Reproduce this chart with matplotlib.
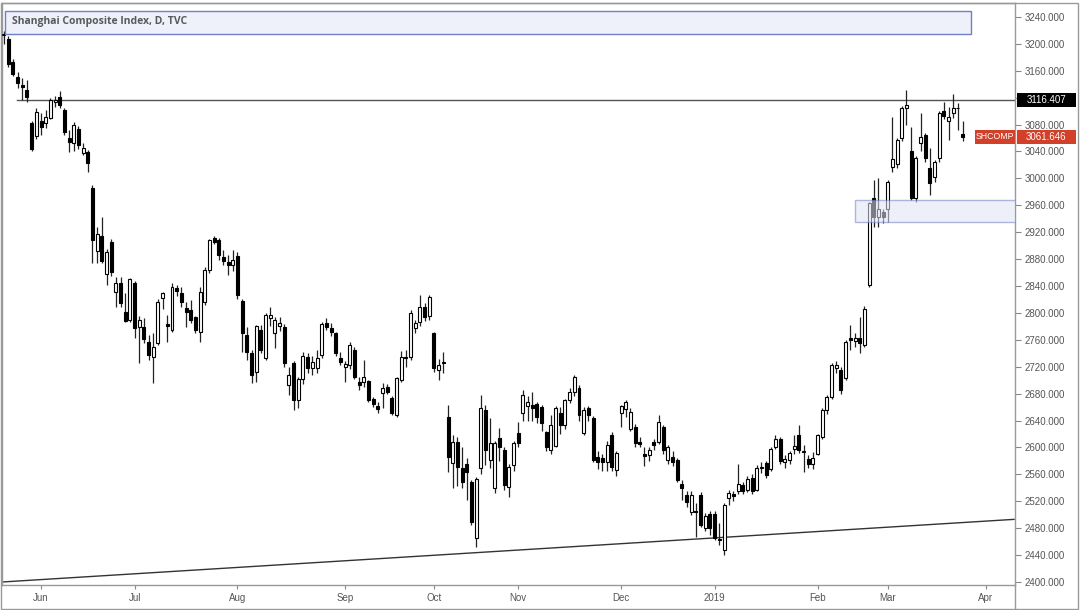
import matplotlib
matplotlib.use('Agg')
import matplotlib.pyplot as plt
from matplotlib.patches import Rectangle
from matplotlib.lines import Line2D
import numpy as np

# daily bars, 22 May 2018 .. 25 Mar 2019 (one entry per trading day)
opens = [3213, 3207, 3173, 3151, 3139, 3131, 3082, 3063, 3085, 3083,
         3090, 3113, 3121, 3102, 3060, 3053, 3073, 3038, 3039, 2986,
         2892, 2914, 2858, 2905, 2831, 2844, 2801, 2790, 2844, 2779,
         2779, 2757, 2734, 2755, 2822, 2783, 2775, 2837, 2830, 2808,
         2804, 2794, 2772, 2816, 2864, 2911, 2908, 2883, 2875, 2871,
         2885, 2818, 2767, 2740, 2712, 2775, 2733, 2793, 2770, 2780,
         2779, 2693, 2725, 2670, 2702, 2734, 2718, 2718, 2737, 2785,
         2777, 2770, 2733, 2719, 2722, 2745, 2697, 2697, 2698, 2672,
         2662, 2681, 2690, 2673, 2648, 2700, 2735, 2734, 2778, 2787,
         2809, 2795, 2770, 2715, 2725, 2645, 2577, 2608, 2569, 2576,
         2548, 2465, 2569, 2656, 2581, 2539, 2614, 2596, 2541, 2574,
         2621, 2651, 2662, 2663, 2664, 2660, 2623, 2596, 2602, 2651,
         2633, 2670, 2683, 2688, 2622, 2658, 2643, 2585, 2584, 2578,
         2618, 2566, 2651, 2657, 2628, 2630, 2608, 2590, 2588, 2608,
         2608, 2630, 2581, 2586, 2581, 2545, 2529, 2504, 2506, 2529,
         2480, 2501, 2501, 2462, 2447, 2525, 2530, 2535, 2544, 2537,
         2555, 2537, 2571, 2577, 2568, 2601, 2612, 2578, 2582, 2598,
         2618, 2593, 2583, 2576, 2590, 2615, 2656, 2675, 2718, 2715,
         2703, 2763, 2758, 2762, 2752, 2841, 2971, 2943, 2950, 2955,
         3017, 3022, 3060, 3105, 3040, 2971, 3052, 3064, 3015, 3002,
         3030, 3100, 3085, 3097, 3104, 3066]
highs = [3219, 3212, 3178, 3158, 3149, 3146, 3085, 3105, 3097, 3102,
         3120, 3122, 3130, 3104, 3072, 3084, 3078, 3053, 3042, 2990,
         2928, 2943, 2895, 2910, 2853, 2853, 2830, 2852, 2848, 2795,
         2792, 2767, 2770, 2820, 2831, 2797, 2845, 2841, 2839, 2816,
         2819, 2796, 2839, 2868, 2910, 2914, 2911, 2894, 2886, 2894,
         2890, 2820, 2779, 2745, 2782, 2782, 2800, 2809, 2794, 2794,
         2783, 2720, 2728, 2705, 2742, 2740, 2736, 2745, 2786, 2792,
         2785, 2772, 2742, 2728, 2757, 2750, 2705, 2730, 2700, 2675,
         2667, 2696, 2694, 2676, 2705, 2744, 2745, 2804, 2790, 2826,
         2815, 2826, 2771, 2731, 2742, 2663, 2618, 2615, 2600, 2584,
         2552, 2556, 2678, 2663, 2644, 2609, 2629, 2601, 2575, 2610,
         2638, 2685, 2676, 2683, 2668, 2663, 2625, 2648, 2662, 2660,
         2672, 2688, 2708, 2693, 2660, 2662, 2646, 2594, 2590, 2610,
         2623, 2594, 2663, 2670, 2659, 2635, 2615, 2600, 2600, 2612,
         2648, 2633, 2603, 2594, 2584, 2551, 2535, 2535, 2517, 2533,
         2502, 2505, 2505, 2488, 2517, 2536, 2535, 2576, 2548, 2558,
         2560, 2574, 2578, 2580, 2600, 2618, 2615, 2588, 2595, 2618,
         2633, 2603, 2588, 2593, 2620, 2658, 2678, 2725, 2728, 2720,
         2760, 2782, 2770, 2794, 2810, 2965, 2998, 3000, 2955, 2998,
         3091, 3060, 3108, 3131, 3076, 3033, 3097, 3068, 3045, 3028,
         3100, 3114, 3106, 3125, 3112, 3086]
lows = [3200, 3166, 3152, 3134, 3117, 3114, 3041, 3058, 3064, 3075,
        3088, 3106, 3105, 3064, 3039, 3040, 3044, 3035, 3010, 2874,
        2874, 2874, 2841, 2855, 2809, 2809, 2786, 2786, 2763, 2725,
        2755, 2730, 2696, 2752, 2806, 2757, 2772, 2825, 2809, 2779,
        2785, 2770, 2757, 2812, 2860, 2902, 2879, 2871, 2856, 2862,
        2820, 2742, 2730, 2696, 2697, 2740, 2730, 2780, 2748, 2773,
        2720, 2678, 2656, 2658, 2695, 2710, 2707, 2710, 2733, 2775,
        2765, 2736, 2722, 2697, 2716, 2702, 2685, 2690, 2668, 2660,
        2651, 2659, 2679, 2648, 2645, 2697, 2720, 2730, 2770, 2780,
        2788, 2790, 2712, 2700, 2711, 2563, 2540, 2542, 2539, 2522,
        2485, 2452, 2560, 2574, 2569, 2532, 2580, 2536, 2526, 2565,
        2600, 2640, 2640, 2640, 2637, 2625, 2595, 2590, 2600, 2620,
        2628, 2666, 2676, 2640, 2619, 2640, 2578, 2568, 2565, 2565,
        2565, 2558, 2631, 2645, 2625, 2600, 2600, 2573, 2580, 2596,
        2605, 2590, 2575, 2572, 2548, 2522, 2512, 2500, 2467, 2482,
        2476, 2470, 2462, 2455, 2440, 2515, 2520, 2530, 2530, 2533,
        2530, 2535, 2562, 2555, 2565, 2598, 2575, 2570, 2575, 2590,
        2592, 2563, 2570, 2568, 2588, 2612, 2650, 2672, 2710, 2680,
        2700, 2745, 2750, 2740, 2750, 2838, 2928, 2928, 2934, 2935,
        3010, 3015, 3055, 3080, 2968, 2965, 3040, 3025, 2975, 2995,
        3025, 3088, 3057, 3090, 3072, 3056]
closes = [3214, 3170, 3155, 3142, 3136, 3121, 3044, 3099, 3076, 3091,
          3116, 3117, 3109, 3069, 3054, 3080, 3050, 3045, 3023, 2908,
          2917, 2877, 2891, 2861, 2844, 2815, 2788, 2850, 2777, 2789,
          2761, 2737, 2749, 2816, 2830, 2780, 2838, 2833, 2816, 2801,
          2789, 2775, 2831, 2864, 2908, 2905, 2886, 2877, 2871, 2879,
          2826, 2770, 2742, 2707, 2780, 2745, 2797, 2797, 2789, 2785,
          2725, 2708, 2670, 2702, 2736, 2718, 2727, 2733, 2783, 2779,
          2771, 2740, 2727, 2724, 2752, 2705, 2693, 2704, 2670, 2665,
          2657, 2688, 2683, 2651, 2703, 2734, 2733, 2800, 2785, 2809,
          2794, 2824, 2718, 2722, 2727, 2586, 2608, 2571, 2548, 2563,
          2489, 2553, 2659, 2596, 2606, 2606, 2601, 2544, 2571, 2606,
          2606, 2678, 2668, 2659, 2645, 2636, 2601, 2633, 2658, 2633,
          2670, 2683, 2705, 2648, 2656, 2648, 2581, 2578, 2578, 2603,
          2571, 2591, 2661, 2668, 2652, 2606, 2605, 2587, 2596, 2603,
          2638, 2596, 2600, 2578, 2551, 2539, 2519, 2529, 2504, 2485,
          2498, 2480, 2465, 2464, 2514, 2532, 2527, 2545, 2535, 2553,
          2535, 2570, 2570, 2559, 2598, 2613, 2580, 2583, 2592, 2602,
          2596, 2594, 2575, 2584, 2618, 2656, 2675, 2723, 2722, 2685,
          2757, 2760, 2762, 2755, 2806, 2963, 2943, 2955, 2943, 2995,
          3029, 3057, 3105, 3109, 2971, 3030, 3062, 3030, 2993, 3024,
          3097, 3093, 3092, 3104, 3105, 3061.646]

# first trading day of each month (bar index)
month_labels = ['Jun', 'Jul', 'Aug', 'Sep', 'Oct', 'Nov', 'Dec', '2019', 'Feb', 'Mar', 'Apr']
month_starts = [8, 28, 50, 73, 92, 110, 132, 152, 174, 189, 210]

resist_level = 3116.407
last_price = 3061.646
zone_low, zone_high = 2935, 2968
zone_start = 182
trend_x = [0, 216]
trend_y = [2400, 2493]

W, H = 1080, 610
fig = plt.figure(figsize=(W / 100, H / 100), dpi=100)
ax = fig.add_axes([2 / W, 25 / H, 1013 / W, 582 / H])

x = np.arange(len(opens))
o = np.array(opens, dtype=float)
c = np.array(closes, dtype=float)
up = c >= o

# candles
ax.vlines(x, lows, highs, color='#222222', lw=0.9, zorder=3)
ax.bar(x, np.abs(c - o), bottom=np.minimum(o, c), width=0.64,
       color=np.where(up, 'white', 'black'), edgecolor='black', lw=0.8, zorder=4)

# resistance line + trend line
ax.plot([2.8, 217], [resist_level, resist_level], color='#555555', lw=1.0, zorder=2)
ax.plot(trend_x, trend_y, color='#333333', lw=1.0, zorder=2)

# title box
ax.add_patch(Rectangle((0.3, 3215), 206.5, 34, facecolor='#eef0fa', edgecolor='#6f7fc8',
                       lw=1.0, zorder=5))
ax.text(1.8, 3233, 'Shanghai Composite Index, D, TVC', fontsize=7.5, fontweight='bold',
        color='#5a5a5a', va='center', ha='left', family='Open Sans', zorder=6)

# support zone
ax.add_patch(Rectangle((zone_start, zone_low), 40, zone_high - zone_low,
                       facecolor='#dfe3f5', edgecolor='#6f7fc8', lw=1.0, alpha=0.55, zorder=5))

ax.set_xlim(-0.34, 216.2)
ax.set_ylim(2395.4, 3260.8)

yt = np.arange(2400, 3241, 40)
ax.yaxis.tick_right()
ax.set_yticks(yt)
# 3120 sits under the black price tag, as in the original
ax.set_yticklabels(['' if v == 3120 else '%.3f' % v for v in yt])
ax.set_xticks(month_starts)
ax.set_xticklabels(month_labels)
ax.tick_params(axis='y', length=4, color='#888888', labelsize=7, labelcolor='#555555', pad=3)
ax.tick_params(axis='x', length=3, color='#888888', labelsize=7, labelcolor='#555555', pad=3)
for lab in ax.get_xticklabels() + ax.get_yticklabels():
    lab.set_family('Liberation Sans')
for s in ax.spines.values():
    s.set_color('#999999')
    s.set_linewidth(1.0)

# price tags on the axis (widths in axes fraction, heights in price units)
ytr = ax.get_yaxis_transform()
tag_h = 21
ax.add_patch(Rectangle((1.002, resist_level - tag_h / 2), 0.058, tag_h, transform=ytr,
                       facecolor='black', edgecolor='none', clip_on=False, zorder=10))
ax.text(1.031, resist_level, '3116.407', transform=ytr, fontsize=7, color='white',
        va='center', ha='center', family='Liberation Sans', zorder=11, clip_on=False)
ax.add_patch(Rectangle((1.002, last_price - tag_h / 2), 0.058, tag_h, transform=ytr,
                       facecolor='#d2402a', edgecolor='none', clip_on=False, zorder=10))
ax.text(1.031, last_price, '3061.646', transform=ytr, fontsize=7, color='white',
        va='center', ha='center', family='Liberation Sans', zorder=11, clip_on=False)
ax.add_patch(Rectangle((0.9605, last_price - tag_h / 2), 0.0395, tag_h, transform=ytr,
                       facecolor='#d2402a', edgecolor='none', zorder=10))
ax.text(0.9802, last_price, 'SHCOMP', transform=ytr, fontsize=6.3, color='white',
        va='center', ha='center', family='Liberation Sans', zorder=11)

# outer frame and panel separators
fig.add_artist(Rectangle((1 / W, 1 / H), 1 - 3 / W, 1 - 4 / H, transform=fig.transFigure,
                         fill=False, edgecolor='#999999', lw=1.0))
fig.add_artist(Line2D([1015 / W, 1015 / W], [1 / H, 25 / H], transform=fig.transFigure,
                      color='#999999', lw=1.0))

fig.savefig('out.png', dpi=100, facecolor='white')
